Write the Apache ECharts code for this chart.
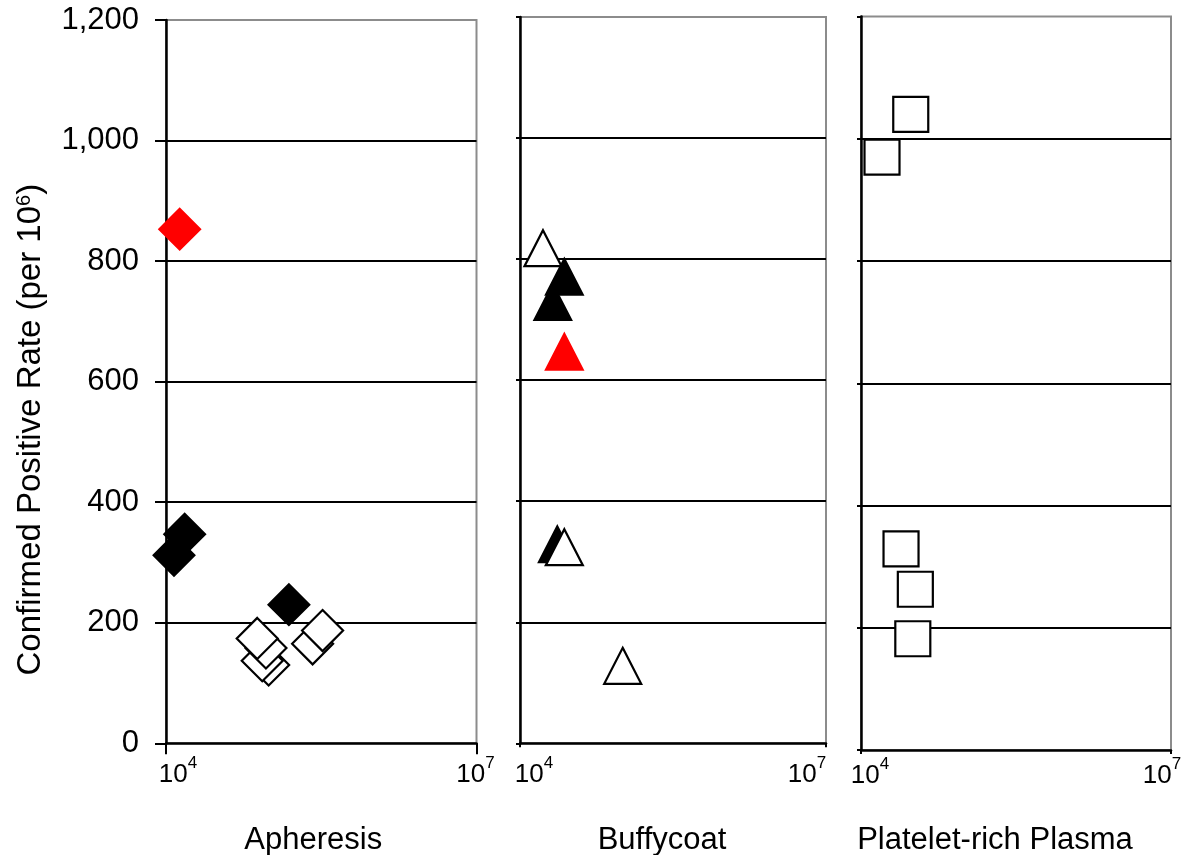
<!DOCTYPE html>
<html>
<head>
<meta charset="utf-8">
<script src="https://cdn.jsdelivr.net/npm/echarts@6/dist/echarts.min.js"></script>
<style>
html, body { margin: 0; padding: 0; background: #fff; }
#chart { width: 1188px; height: 855px; }
</style>
</head>
<body>
<div id="chart"></div>
<script>
// ---- Data ----
const panels = ['Apheresis', 'Buffycoat', 'Platelet-rich Plasma'];
const yTitle = 'Confirmed Positive Rate (per 10{sup|6})';
const xMin = 1e4, xMax = 1e7;
const yMin = 0, yMax = 1200, yStep = 200;

// Apheresis (diamonds)
const aphOpenX  = [98100, 85100, 92400, 76100, 260900, 325800];
const aphOpenY  = [130, 137, 158, 174, 165, 187];
const aphBlackX = [15150, 11950, 154000];
const aphBlackY = [347, 312, 230];
const aphRedX   = [13560];
const aphRedY   = [853];

// Buffycoat (triangles)
const bcOpenUpperX = [16800];
const bcOpenUpperY = [818];
const bcBlackX = [27200, 20970, 23200];
const bcBlackY = [771, 729, 329];
const bcRedX   = [27200];
const bcRedY   = [647];
const bcOpenLowerX = [27200, 101600];
const bcOpenLowerY = [324, 128];

// Platelet-rich Plasma (squares)
const prpOpenX = [30300, 15970, 24400, 33560, 31720];
const prpOpenY = [1040, 970, 329, 263, 182];

// ---- Styling ----
const FONT = '"Liberation Sans", Arial, Helvetica, sans-serif';
const zip = (xs, ys) => xs.map((x, i) => [x, ys[i]]);

const grids = [
  { left: 166, top: 20, width: 310.5, height: 723.3 },
  { left: 520, top: 17, width: 306, height: 726.3 },
  { left: 861, top: 16.5, width: 310, height: 733.5 }
].map(g => Object.assign(g, {
  show: true, borderColor: '#8c8c8c', borderWidth: 2, backgroundColor: 'transparent',
  containLabel: false, outerBoundsMode: 'none'
}));

// label nudges: spacer before the min label, spacer after the max label
const xCfg = [
  { tick: 11, margin: 12, nameGap: 82, namePad: 16, preSpace: 24, postSpace: 2 },
  { tick: 4,  margin: 12, nameGap: 82, namePad: 22, preSpace: 28, postSpace: 38 },
  { tick: 4,  margin: 5.5, nameGap: 75, namePad: 42, preSpace: 18, postSpace: 18 }
];

const xAxes = panels.map((p, i) => ({
  type: 'log', logBase: 10, min: xMin, max: xMax, splitNumber: 1, gridIndex: i,
  name: p, nameLocation: 'middle', nameGap: xCfg[i].nameGap,
  nameTextStyle: { fontFamily: FONT, fontSize: 31, color: '#000', padding: [0, xCfg[i].namePad, 0, 0] },
  axisLine: { show: true, onZero: false, lineStyle: { color: '#000', width: 2.5 } },
  axisTick: { show: true, length: xCfg[i].tick, lineStyle: { color: '#000', width: 2 } },
  minorTick: { show: false },
  splitLine: { show: false },
  axisLabel: {
    margin: xCfg[i].margin,
    fontFamily: FONT, fontSize: 26, lineHeight: 40, color: '#000',
    formatter: v => {
      const e = Math.round(Math.log10(v));
      const base = '10{sup|' + e + '}';
      return v <= xMin * 1.0001 ? '{pre| }' + base : '10{sup|' + e + '}{post| }';
    },
    rich: {
      sup: { fontFamily: FONT, fontSize: 17, verticalAlign: 'top', color: '#000' },
      pre: { width: xCfg[i].preSpace, fontSize: 10 },
      post: { width: xCfg[i].postSpace, fontSize: 10 }
    }
  }
}));

const yAxes = panels.map((p, i) => ({
  type: 'value', min: yMin, max: yMax, interval: yStep, gridIndex: i,
  name: i === 0 ? yTitle : '',
  nameLocation: 'middle', nameGap: 119, nameRotate: 90,
  nameTextStyle: {
    fontFamily: FONT, fontSize: 33, color: '#000', padding: [0, 96, 0, 0],
    rich: { sup: { fontFamily: FONT, fontSize: 20, verticalAlign: 'top', color: '#000' } }
  },
  axisLine: { show: true, onZero: false, lineStyle: { color: '#000', width: 2.5 } },
  axisTick: { show: true, length: i === 0 ? 11 : 4, lineStyle: { color: '#000', width: 2 } },
  axisLabel: {
    show: i === 0, fontFamily: FONT, fontSize: 31, color: '#000', margin: 27,
    formatter: v => v.toLocaleString('en-US')
  },
  splitLine: { show: true, showMinLine: false, showMaxLine: false, lineStyle: { color: '#000', width: 2 } }
}));

const styles = {
  open:  { color: '#fff', borderColor: '#000', borderWidth: 2.2, opacity: 1 },
  black: { color: '#000', borderColor: '#000', borderWidth: 2, opacity: 1 },
  red:   { color: '#ff0000', borderColor: '#ff0000', borderWidth: 2, opacity: 1 }
};

function sc(name, idx, xs, ys, symbol, size, style) {
  return {
    type: 'scatter', name, xAxisIndex: idx, yAxisIndex: idx,
    data: zip(xs, ys), symbol, symbolSize: size, itemStyle: style,
    clip: false, silent: true
  };
}

const DIA = 41, TRI = [37, 36], SQ = 35;
const series = [
  sc('Apheresis open', 0, aphOpenX, aphOpenY, 'diamond', DIA, styles.open),
  sc('Apheresis black', 0, aphBlackX, aphBlackY, 'diamond', DIA, styles.black),
  sc('Apheresis red', 0, aphRedX, aphRedY, 'diamond', DIA, styles.red),
  sc('Buffycoat open (upper)', 1, bcOpenUpperX, bcOpenUpperY, 'triangle', TRI, styles.open),
  sc('Buffycoat black', 1, bcBlackX, bcBlackY, 'triangle', TRI, styles.black),
  sc('Buffycoat red', 1, bcRedX, bcRedY, 'triangle', TRI, styles.red),
  sc('Buffycoat open (lower)', 1, bcOpenLowerX, bcOpenLowerY, 'triangle', TRI, styles.open),
  sc('Platelet-rich Plasma open', 2, prpOpenX, prpOpenY, 'rect', SQ, styles.open)
];

const chart = echarts.init(document.getElementById('chart'), null, { renderer: 'canvas' });
chart.setOption({
  animation: false,
  backgroundColor: '#fff',
  textStyle: { fontFamily: FONT },
  grid: grids,
  xAxis: xAxes,
  yAxis: yAxes,
  series
});
</script>
</body>
</html>
